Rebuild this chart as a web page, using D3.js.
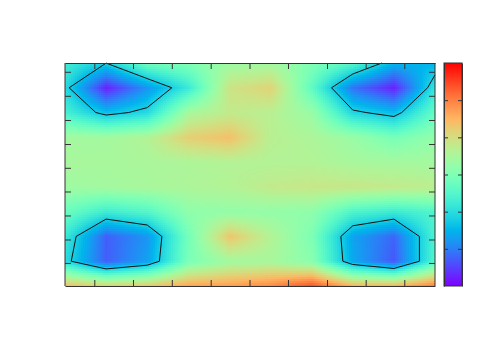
<!DOCTYPE html>
<html>
<head>
<meta charset="utf-8">
<script src="https://cdn.jsdelivr.net/npm/d3@7"></script>
<style>
  html, body { margin: 0; padding: 0; background: #fff; }
  svg { display: block; }
</style>
</head>
<body>
<script>
// Surface values, top row first, normalised to the colour bar (0 to 1)
const row0 = [0.38, 0.301, 0.47, 0.50, 0.56, 0.57, 0.50, 0.42, 0.25, 0.248];
const row1 = [0.329, 0.04, 0.20, 0.367, 0.65, 0.69, 0.44, 0.15, 0.04, 0.357];
const row2 = [0.39, 0.27, 0.325, 0.58, 0.63, 0.61, 0.55, 0.317, 0.265, 0.449];
const row3 = [0.57, 0.57, 0.60, 0.70, 0.73, 0.61, 0.59, 0.55, 0.485, 0.54];
const row4 = [0.58, 0.58, 0.585, 0.59, 0.60, 0.60, 0.60, 0.58, 0.575, 0.57];
const row5 = [0.56, 0.57, 0.58, 0.59, 0.60, 0.63, 0.64, 0.64, 0.63, 0.62];
const row6 = [0.46, 0.377, 0.417, 0.53, 0.54, 0.54, 0.53, 0.406, 0.373, 0.41];
const row7 = [0.367, 0.12, 0.20, 0.48, 0.72, 0.60, 0.496, 0.22, 0.13, 0.404];
const row8 = [0.332, 0.12, 0.22, 0.49, 0.57, 0.58, 0.52, 0.23, 0.11, 0.416];
const row9 = [0.74, 0.70, 0.72, 0.78, 0.79, 0.82, 0.90, 0.76, 0.76, 0.84];
const rows = [row0, row1, row2, row3, row4, row5, row6, row7, row8, row9];

const contourLevel = 0.3;

// Tick places, in grid units. The reference has ticks but no labels.
const xTicks = [0.713, 1.654, 2.598, 3.544, 4.488, 5.424, 6.373, 7.314, 8.253];
const yTicks = [0.375, 1.344, 2.32, 3.29, 4.25, 5.206, 6.174, 7.143, 8.09];
const barTicks = [1 / 6, 2 / 6, 3 / 6, 4 / 6, 5 / 6];

const width = 500;
const height = 350;
const plot = { left: 65, right: 435, top: 63, bottom: 286 };
const bar = { left: 444, right: 462 };
const frameColor = '#333';

const nx = rows[0].length;
const ny = rows.length;
const x = d3.scaleLinear().domain([0, nx - 1]).range([plot.left, plot.right]);
const y = d3.scaleLinear().domain([0, ny - 1]).range([plot.top, plot.bottom]);
const barY = d3.scaleLinear().domain([0, 1]).range([plot.bottom, plot.top]);

// gnuplot palette rgbformulae 33,13,10
const color = d3.scaleSequential(t => {
  const r = Math.min(1, Math.abs(2 * t - 0.5));
  const g = Math.sin(Math.PI * t);
  const b = Math.cos(Math.PI * t / 2);
  return d3.rgb(r * 255, g * 255, b * 255).formatHex();
}).domain([0, 1]).clamp(true);

function surface(gx, gy) {
  const i = Math.min(nx - 2, Math.floor(gx));
  const j = Math.min(ny - 2, Math.floor(gy));
  const u = gx - i;
  const v = gy - j;
  const top = rows[j][i] * (1 - u) + rows[j][i + 1] * u;
  const bottom = rows[j + 1][i] * (1 - u) + rows[j + 1][i + 1] * u;
  return top * (1 - v) + bottom * v;
}

const svg = d3.select('body').append('svg')
  .attr('width', width)
  .attr('height', height)
  .attr('viewBox', `0 0 ${width} ${height}`);

// Heat map, drawn as small cells so the interpolation looks continuous
const step = 2;
const cells = [];
for (let py = plot.top; py < plot.bottom; py += step) {
  for (let px = plot.left; px < plot.right; px += step) {
    cells.push({ px, py, z: surface(x.invert(px + step / 2), y.invert(py + step / 2)) });
  }
}
svg.append('g')
  .attr('shape-rendering', 'crispEdges')
  .selectAll('rect')
  .data(cells)
  .join('rect')
  .attr('x', d => d.px)
  .attr('y', d => d.py)
  .attr('width', d => Math.min(step, plot.right - d.px))
  .attr('height', d => Math.min(step, plot.bottom - d.py))
  .attr('fill', d => color(d.z));

// Contour around the lows; values negated so the rings close around them
const flat = rows.flat().map(v => -v);
const contour = d3.contours().size([nx, ny]).thresholds([-contourLevel])(flat)[0];
const clampGrid = ([cx, cy]) => [
  Math.max(0, Math.min(nx - 1, cx - 0.5)),
  Math.max(0, Math.min(ny - 1, cy - 0.5)),
];
const onBorder = v => v === 0;

// d3.contours closes rings along the grid edge; the reference leaves them open there
function ringPath(ring) {
  const pts = ring.map(clampGrid);
  const p = d3.path();
  pts.forEach((pt, k) => {
    const prev = pts[k - 1];
    const alongEdge = prev && (
      (prev[0] === pt[0] && (onBorder(pt[0]) || pt[0] === nx - 1)) ||
      (prev[1] === pt[1] && (onBorder(pt[1]) || pt[1] === ny - 1)));
    if (!prev || alongEdge) p.moveTo(x(pt[0]), y(pt[1]));
    else p.lineTo(x(pt[0]), y(pt[1]));
  });
  return p.toString();
}

svg.append('g')
  .selectAll('path')
  .data(contour.coordinates.map(poly => poly[0]))
  .join('path')
  .attr('d', ringPath)
  .attr('fill', 'none')
  .attr('stroke', '#111')
  .attr('stroke-width', 1);

// Colour bar
const barStops = d3.range(plot.top, plot.bottom);
svg.append('g')
  .attr('shape-rendering', 'crispEdges')
  .selectAll('rect')
  .data(barStops)
  .join('rect')
  .attr('x', bar.left)
  .attr('y', d => d)
  .attr('width', bar.right - bar.left)
  .attr('height', 1)
  .attr('fill', d => color(barY.invert(d + 0.5)));

// Axes: ticks point inward on all sides, no labels
function styleAxis(g) {
  g.selectAll('path').attr('stroke', frameColor);
  g.selectAll('line').attr('stroke', frameColor);
}

svg.append('g').attr('transform', `translate(0,${plot.bottom})`)
  .call(d3.axisBottom(x).tickValues(xTicks).tickSize(-6).tickSizeOuter(0).tickFormat(''))
  .call(styleAxis);
svg.append('g').attr('transform', `translate(0,${plot.top})`)
  .call(d3.axisTop(x).tickValues(xTicks).tickSize(-6).tickSizeOuter(0).tickFormat(''))
  .call(styleAxis);
// offset 0 leaves the side frames straddling two pixels, grey as in the reference
svg.append('g').attr('transform', `translate(${plot.left},0)`)
  .call(d3.axisLeft(y).offset(0).tickValues(yTicks).tickSize(-6).tickSizeOuter(0).tickFormat(''))
  .call(styleAxis);
svg.append('g').attr('transform', `translate(${plot.right},0)`)
  .call(d3.axisRight(y).offset(0).tickValues(yTicks).tickSize(-6).tickSizeOuter(0).tickFormat(''))
  .call(styleAxis);

svg.append('g').attr('transform', `translate(${bar.left},0)`)
  .call(d3.axisLeft(barY).tickValues(barTicks).tickSize(-4).tickSizeOuter(0).tickFormat(''))
  .call(styleAxis);
svg.append('g').attr('transform', `translate(${bar.right},0)`)
  .call(d3.axisRight(barY).tickValues(barTicks).tickSize(-4).tickSizeOuter(0).tickFormat(''))
  .call(styleAxis);
svg.append('rect')
  .attr('x', bar.left)
  .attr('y', plot.top)
  .attr('width', bar.right - bar.left)
  .attr('height', plot.bottom - plot.top)
  .attr('fill', 'none')
  .attr('stroke', frameColor);
</script>
</body>
</html>
